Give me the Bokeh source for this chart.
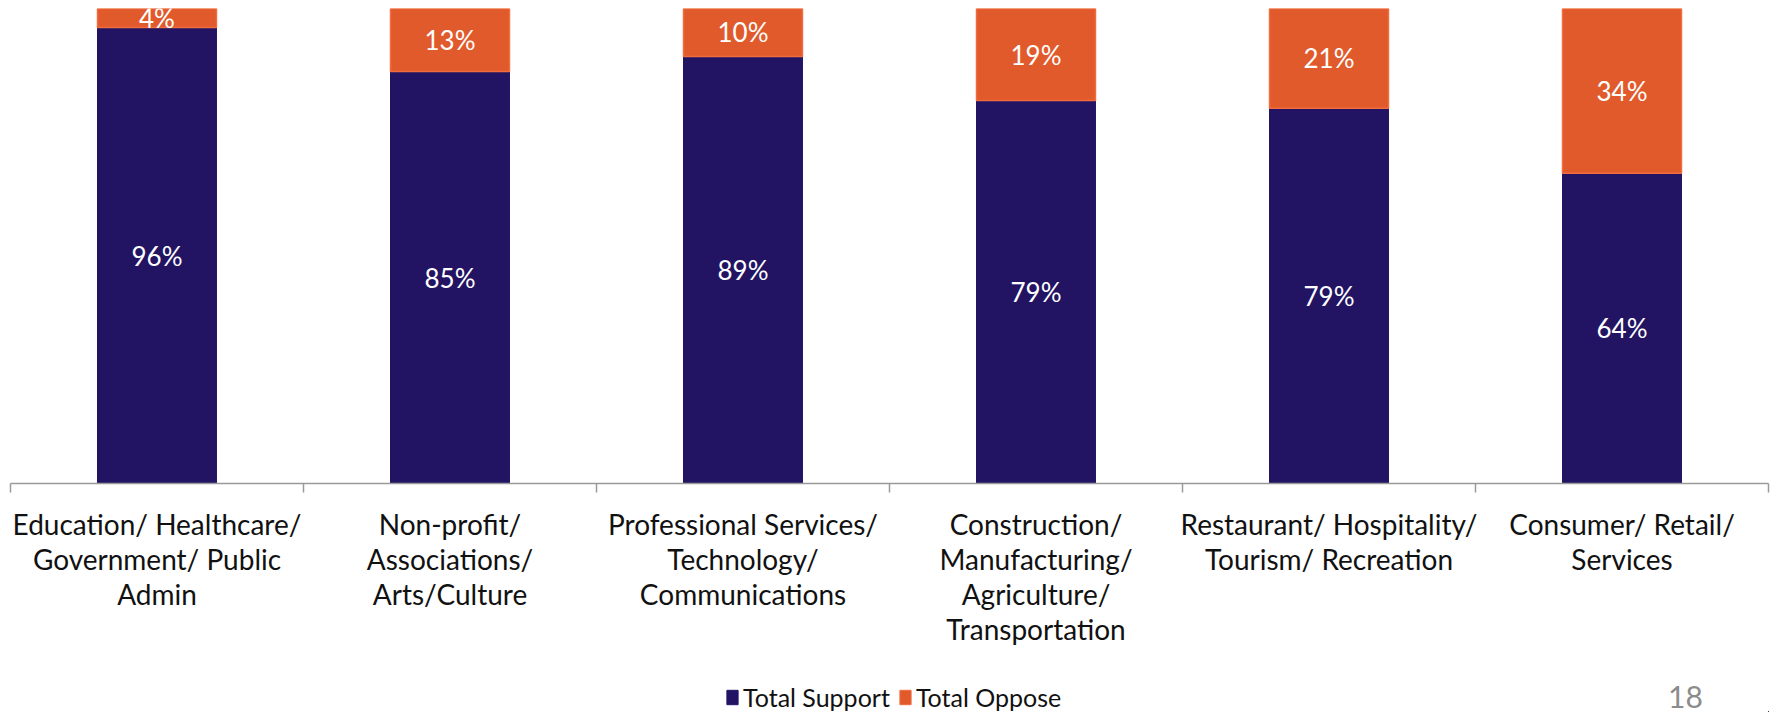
from bokeh.plotting import figure
from bokeh.layouts import column
from bokeh.models import ColumnDataSource, Range1d, FixedTicker, Legend, LegendItem, Label
from bokeh.core.properties import value
from bokeh.embed import file_html
from bokeh.resources import INLINE

# ---- data ----
categories = [
    "Education/ Healthcare/ Government/ Public Admin",
    "Non-profit/ Associations/ Arts/Culture",
    "Professional Services/ Technology/ Communications",
    "Construction/ Manufacturing/ Agriculture/ Transportation",
    "Restaurant/ Hospitality/ Tourism/ Recreation",
    "Consumer/ Retail/ Services",
]
category_labels = [
    "Education/ Healthcare/\nGovernment/ Public\nAdmin",
    "Non-profit/\nAssociations/\nArts/Culture",
    "Professional Services/\nTechnology/\nCommunications",
    "Construction/\nManufacturing/\nAgriculture/\nTransportation",
    "Restaurant/ Hospitality/\nTourism/ Recreation",
    "Consumer/ Retail/\nServices",
]
support = [96, 85, 89, 79, 79, 64]
oppose = [4, 13, 10, 19, 21, 34]
series_names = ["Total Support", "Total Oppose"]
page_number = "18"

SUPPORT_COLOR = "#221463"
OPPOSE_COLOR = "#E15A2B"
OPPOSE_EDGE = "#F26B3E"
FONT = "Lato"

W, H_MAIN, H_FOOT = 1771, 665, 47

# 100% stacked: shares of support + oppose
n = len(categories)
xpos = [i + 0.5 for i in range(n)]
total = [s + o for s, o in zip(support, oppose)]
sup_share = [s / t for s, t in zip(support, total)]
opp_share = [o / t for o, t in zip(oppose, total)]

src = ColumnDataSource(dict(
    x=xpos,
    sup=sup_share,
    opp=opp_share,
    sup_mid=[s / 2 for s in sup_share],
    opp_mid=[s + o / 2 for s, o in zip(sup_share, opp_share)],
    sup_label=[f"{v}%" for v in support],
    opp_label=[f"{v}%" for v in oppose],
))

p = figure(
    width=W, height=H_MAIN,
    x_range=Range1d(0, n), y_range=Range1d(0, 1),
    y_axis_location=None,
    toolbar_location=None, output_backend="svg",
    min_border_left=10, min_border_right=3, min_border_top=8, min_border_bottom=182,
)
p.outline_line_color = None
p.xgrid.visible = False
p.ygrid.visible = False

p.vbar_stack(
    ["sup", "opp"], x="x", width=0.406, source=src,
    fill_color=[SUPPORT_COLOR, OPPOSE_COLOR],
    line_color=[SUPPORT_COLOR, OPPOSE_EDGE],
    line_width=[1, 1.5],
)

for ycol, tcol in (("sup_mid", "sup_label"), ("opp_mid", "opp_label")):
    p.text(x="x", y=ycol, text=tcol, source=src,
           text_align="center", text_baseline="middle", text_color="white",
           text_font=value(FONT), text_font_size="26px")

ax = p.xaxis[0]
ax.ticker = FixedTicker(ticks=xpos, minor_ticks=list(range(n + 1)))
ax.major_label_overrides = {x: lab for x, lab in zip(xpos, category_labels)}
ax.major_tick_out = 0
ax.major_tick_in = 0
ax.minor_tick_out = 9
ax.minor_tick_in = 0
ax.minor_tick_line_color = "#9a9a9a"
ax.minor_tick_line_width = 1.5
ax.axis_line_color = "#9a9a9a"
ax.axis_line_width = 1.5
ax.major_label_standoff = 14
ax.major_label_text_font = FONT
ax.major_label_text_font_size = "28px"
ax.major_label_text_color = "#111111"
ax.major_label_text_line_height = 1.03
ax.major_label_orientation = "horizontal"

# ---- footer with legend and page number ----
# the footer's x range lies left of the data, so its key renderers draw nothing visible
f = figure(
    width=W, height=H_FOOT,
    x_range=Range1d(-W, 0), y_range=Range1d(0, H_FOOT),
    x_axis_location=None, y_axis_location=None,
    toolbar_location=None, output_backend="svg",
    min_border_left=0, min_border_right=0, min_border_top=0, min_border_bottom=0,
)
f.outline_line_color = None
f.xgrid.visible = False
f.ygrid.visible = False
r_sup = f.vbar(x="x", top="sup", width=0.4, source=src,
               fill_color=SUPPORT_COLOR, line_color=SUPPORT_COLOR)
r_opp = f.vbar(x="x", top="opp", width=0.4, source=src,
               fill_color=OPPOSE_COLOR, line_color=OPPOSE_EDGE)

legend = Legend(
    items=[LegendItem(label=series_names[0], renderers=[r_sup]),
           LegendItem(label=series_names[1], renderers=[r_opp])],
    orientation="horizontal",
    location=(715, 0),
    padding=0, margin=0, spacing=8,
    glyph_width=14, glyph_height=18, label_standoff=4,
    label_text_font=FONT, label_text_font_size="25px", label_text_color="#111111",
    border_line_color=None, background_fill_alpha=0,
)
f.add_layout(legend, "center")

f.add_layout(Label(
    x=1675, y=16, x_units="screen", y_units="screen", text=page_number,
    text_align="center", text_baseline="middle",
    text_font=FONT, text_font_size="30px", text_color="#8c8c8c",
))

layout = column(p, f, spacing=0)
open("out.html", "w").write(file_html(layout, INLINE))
